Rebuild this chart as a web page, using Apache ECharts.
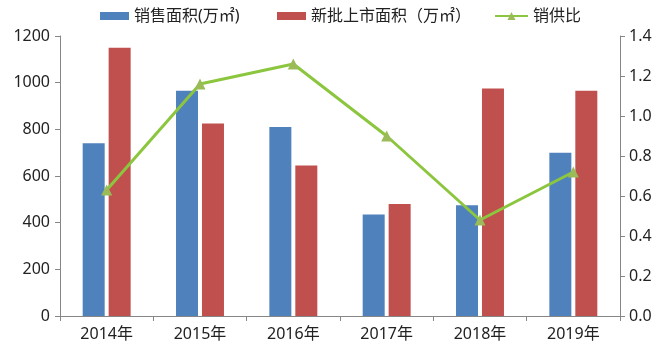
<!DOCTYPE html>
<html>
<head>
<meta charset="utf-8">
<script src="https://cdn.jsdelivr.net/npm/echarts@6/dist/echarts.min.js"></script>
<style>
  html, body { margin: 0; padding: 0; background: #fff; }
  #chart { width: 663px; height: 353px; }
</style>
</head>
<body>
<div id="chart"></div>
<script>
var years = ['2014年', '2015年', '2016年', '2017年', '2018年', '2019年'];
var salesArea = [740, 965, 810, 435, 475, 700];
var newSupply = [1150, 825, 645, 480, 975, 965];
var salesRatio = [0.63, 1.16, 1.26, 0.90, 0.48, 0.72];

var font = 'Noto Sans, Noto Sans CJK SC, sans-serif';

var myChart = echarts.init(document.getElementById('chart'));

// one legend per item so each sits where it does in the picture
function legendAt(left, name, icon, w, h) {
    var item = { name: name };
    if (icon) item.icon = icon;
    return {
        top: 8,
        left: left,
        padding: 0,
        itemWidth: w,
        itemHeight: h,
        itemGap: 0,
        textStyle: { fontSize: 16, color: '#222', fontFamily: font },
        data: [item]
    };
}

let option = {
    animation: false,
    textStyle: { fontFamily: font },
    legend: [
        legendAt(100, '销售面积(万㎡)', 'rect', 29, 8),
        legendAt(277, '新批上市面积（万㎡）', 'rect', 29, 8),
        legendAt(494, '销供比', null, 33, 10)
    ],
    grid: { left: 60, right: 43, top: 36, bottom: 37 },
    xAxis: {
        type: 'category',
        data: years,
        axisLine: { lineStyle: { color: '#868686' } },
        axisTick: { show: true, length: 5, lineStyle: { color: '#868686' } },
        axisLabel: { fontSize: 16, color: '#222', margin: 10 }
    },
    yAxis: [
        {
            type: 'value',
            min: 0,
            max: 1200,
            interval: 200,
            splitLine: { show: false },
            axisLine: { show: true, lineStyle: { color: '#868686' } },
            axisTick: { show: true, length: 5, lineStyle: { color: '#868686' } },
            axisLabel: {
                fontSize: 16, color: '#222', margin: 10,
                formatter: function (v) { return String(v); }
            }
        },
        {
            type: 'value',
            min: 0,
            max: 1.4,
            interval: 0.2,
            splitLine: { show: false },
            axisLine: { show: true, lineStyle: { color: '#868686' } },
            axisTick: { show: true, length: 5, lineStyle: { color: '#868686' } },
            axisLabel: {
                fontSize: 16, color: '#222', margin: 9,
                formatter: function (v) { return v.toFixed(1); }
            }
        }
    ],
    series: [
        {
            name: '销售面积(万㎡)',
            type: 'bar',
            data: salesArea,
            barWidth: 22,
            barGap: '18%',
            itemStyle: { color: '#4F81BD' }
        },
        {
            name: '新批上市面积（万㎡）',
            type: 'bar',
            data: newSupply,
            barWidth: 22,
            barGap: '18%',
            itemStyle: { color: '#C0504D' }
        },
        {
            name: '销供比',
            type: 'line',
            yAxisIndex: 1,
            data: salesRatio,
            symbol: 'triangle',
            symbolSize: 11,
            lineStyle: { color: '#8CC63F', width: 3 },
            itemStyle: { color: '#9BBB59' }
        }
    ]
};

myChart.setOption(option);
</script>
</body>
</html>
